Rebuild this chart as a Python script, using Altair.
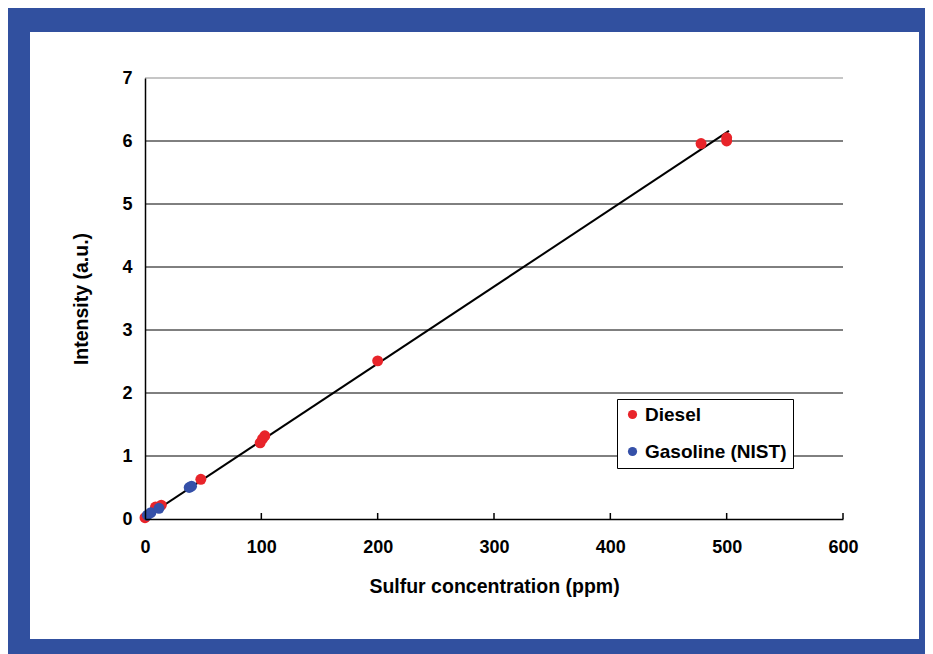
import altair as alt
import pandas as pd

# Data
diesel_x = [0, 9, 14, 48, 99, 101, 103, 200, 478, 500, 500]
diesel_y = [0.02, 0.19, 0.22, 0.63, 1.21, 1.27, 1.32, 2.51, 5.96, 6.0, 6.05]
gas_x = [2, 5, 12, 38, 40]
gas_y = [0.06, 0.1, 0.17, 0.5, 0.52]
fit_x = [0, 502]
fit_y = [0.02, 6.16]
x_ticks = [0, 100, 200, 300, 400, 500, 600]
y_ticks = [0, 1, 2, 3, 4, 5, 6, 7]
grid_vals = [1, 2, 3, 4, 5, 6, 7]

series_names = ["Diesel", "Gasoline (NIST)"]
series_colors = ["#E8242A", "#3550A8"]

W, H = 698, 441
FONT = "Liberation Sans"

pts = pd.DataFrame({
    "x": diesel_x + gas_x,
    "y": diesel_y + gas_y,
    "series": ["Diesel"] * len(diesel_x) + ["Gasoline (NIST)"] * len(gas_x),
})
fit = pd.DataFrame({"x": fit_x, "y": fit_y})
ticks = pd.DataFrame({"x": x_ticks})
grid = pd.DataFrame({"y": grid_vals})

xscale = alt.Scale(domain=[0, 600], nice=False)
yscale = alt.Scale(domain=[0, 7], nice=False)

xaxis = alt.Axis(values=x_ticks, grid=False, ticks=False, domainColor="black",
                 domainWidth=1.5, labelFont=FONT, labelFontSize=18, labelFontWeight="bold",
                 labelColor="black", labelPadding=19, labelFlush=False,
                 title="Sulfur concentration (ppm)",
                 titleFont=FONT, titleFontSize=19.5, titleFontWeight="bold", titleColor="black",
                 titlePadding=21, zindex=1)
yaxis = alt.Axis(values=y_ticks, grid=False, ticks=False, domainColor="black",
                 domainWidth=1.5, labelFont=FONT, labelFontSize=18, labelFontWeight="bold",
                 labelColor="black", labelPadding=13, labelFlush=False,
                 title="Intensity (a.u.)",
                 titleFont=FONT, titleFontSize=19.5, titleFontWeight="bold", titleColor="black",
                 titlePadding=30, zindex=1)

panel = alt.Chart(pd.DataFrame({"a": [0]})).mark_rect(fill="white").encode(
    x=alt.value(-115), x2=alt.value(774), y=alt.value(-46), y2=alt.value(561)
)

gridlines = alt.Chart(grid).mark_rule(color="black", strokeWidth=1).encode(
    y=alt.Y("y:Q", scale=yscale, axis=yaxis),
    x=alt.value(0), x2=alt.value(W),
    strokeOpacity=alt.condition("datum.y == 7", alt.value(0.45), alt.value(1)),
)

tickmarks = alt.Chart(ticks).mark_rule(color="black", strokeWidth=1.5).encode(
    x=alt.X("x:Q", scale=xscale, axis=xaxis),
    y=alt.value(H), y2=alt.value(H - 6),
)

line = alt.Chart(fit).mark_line(color="black", strokeWidth=2).encode(
    x=alt.X("x:Q", scale=xscale, axis=xaxis),
    y=alt.Y("y:Q", scale=yscale, axis=yaxis),
)

points = alt.Chart(pts).mark_circle(size=120, opacity=1).encode(
    x=alt.X("x:Q", scale=xscale, axis=xaxis),
    y=alt.Y("y:Q", scale=yscale, axis=yaxis),
    color=alt.Color("series:N", scale=alt.Scale(domain=series_names, range=series_colors),
                    legend=alt.Legend(title=None, orient="none", legendX=472, legendY=321,
                                      fillColor="white", strokeColor="black", padding=6,
                                      symbolType="circle", symbolSize=85, symbolStrokeWidth=0,
                                      labelFont=FONT, labelFontSize=19, labelFontWeight="bold",
                                      labelColor="black", rowPadding=17, labelOffset=3)),
)

chart = alt.layer(panel, gridlines, tickmarks, line, points).properties(
    width=W, height=H,
    background="#31509F",
    padding={"left": 22, "top": 24, "right": 6, "bottom": 15},
).configure_view(stroke=None)

chart.save("out.html", embed_options={"renderer": "svg", "actions": False})
